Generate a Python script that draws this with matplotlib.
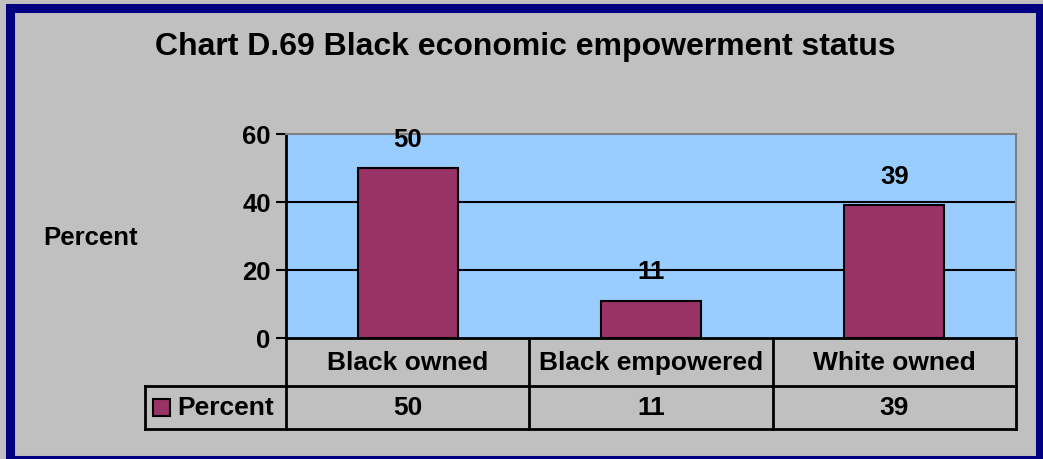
import matplotlib
matplotlib.use("Agg")
import matplotlib.pyplot as plt
from matplotlib.patches import Rectangle

# chart data
categories = ["Black owned", "Black empowered", "White owned"]
percent = [50, 11, 39]
series_name = "Percent"
y_ticks = [0, 20, 40, 60]

# colours
BG = "#C0C0C0"
PLOT_BG = "#99CCFF"
BAR = "#993366"
NAVY = "#000080"

plt.rcParams["font.family"] = ["Liberation Sans", "DejaVu Sans"]
plt.rcParams["font.weight"] = "bold"

W, H = 1043, 460
fig = plt.figure(figsize=(W / 100, H / 100), dpi=100, facecolor=BG)

# plot area in pixels: x 286-1016, y 135-339
left, right, top, bottom = 286, 1016, 135, 339
ax = fig.add_axes([left / W, 1 - bottom / H, (right - left) / W, (bottom - top) / H])
ax.set_facecolor(PLOT_BG)

x = list(range(len(categories)))
ax.bar(x, percent, width=0.41, color=BAR, edgecolor="black", linewidth=1.5, zorder=3)
ax.set_xlim(-0.5, len(categories) - 0.5)
ax.set_ylim(0, 60)

for xi, v in zip(x, percent):
    ax.annotate(str(v), (xi, v), xytext=(0, 21), textcoords="offset points",
                ha="center", va="center", fontsize=18.5, fontweight="bold")

ax.set_yticks(y_ticks)
ax.set_yticklabels([str(t) for t in y_ticks], fontsize=18.5, fontweight="bold")
ax.tick_params(axis="y", direction="out", length=7, width=1.5, pad=4)
ax.set_xticks([])
for yt in y_ticks[1:-1]:
    ax.axhline(yt, color="black", linewidth=1.5, zorder=2)

ax.spines["left"].set_linewidth(2)
ax.spines["bottom"].set_linewidth(2)
ax.spines["top"].set_color("#808080")
ax.spines["right"].set_color("#808080")
ax.spines["top"].set_linewidth(1.5)
ax.spines["right"].set_linewidth(1.5)

# data table below the plot (axes fraction coords)
plot_h = bottom - top
row1 = -(387 - bottom) / plot_h
row2 = -(430 - bottom) / plot_h
leg_left = (145 - left) / (right - left)
n = len(categories)
lk = dict(color="black", linewidth=2, transform=ax.transAxes, clip_on=False)

ax.plot([0, 0], [0, row2], **lk)
for i in range(1, n + 1):
    ax.plot([i / n, i / n], [0, row2], **lk)
ax.plot([leg_left, 1], [row1, row1], **lk)
ax.plot([leg_left, 1], [row2, row2], **lk)
ax.plot([leg_left, leg_left], [row1, row2], **lk)

for i, (cat, v) in enumerate(zip(categories, percent)):
    xc = (i + 0.5) / n
    ax.text(xc, row1 / 2, cat, transform=ax.transAxes, ha="center", va="center",
            fontsize=19, fontweight="bold")
    ax.text(xc, (row1 + row2) / 2, str(v), transform=ax.transAxes, ha="center",
            va="center", fontsize=19, fontweight="bold")

# legend key in table
sq_x = (153 - left) / (right - left)
sq_w = 17 / (right - left)
sq_h = 17 / plot_h
ymid = (row1 + row2) / 2
ax.add_patch(Rectangle((sq_x, ymid - sq_h / 2), sq_w, sq_h, transform=ax.transAxes,
                       facecolor=BAR, edgecolor="black", linewidth=1.5, clip_on=False))
ax.text((177 - left) / (right - left), ymid, series_name, transform=ax.transAxes,
        ha="left", va="center", fontsize=19, fontweight="bold")

# title and axis label
fig.text(525 / W, 1 - 47 / H, "Chart D.69 Black economic empowerment status",
         ha="center", va="center", fontsize=23, fontweight="bold")
fig.text(91 / W, 1 - 238 / H, "Percent", ha="center", va="center",
         fontsize=18.5, fontweight="bold")

# navy border around chart
fig.patches.append(Rectangle((9.5 / W, -0.5 / H), (1040 - 9.5) / W, (460.5 - 8.5) / H,
                             transform=fig.transFigure, fill=False,
                             edgecolor=NAVY, linewidth=6.5))

fig.savefig("out.png", dpi=100, facecolor=BG)
